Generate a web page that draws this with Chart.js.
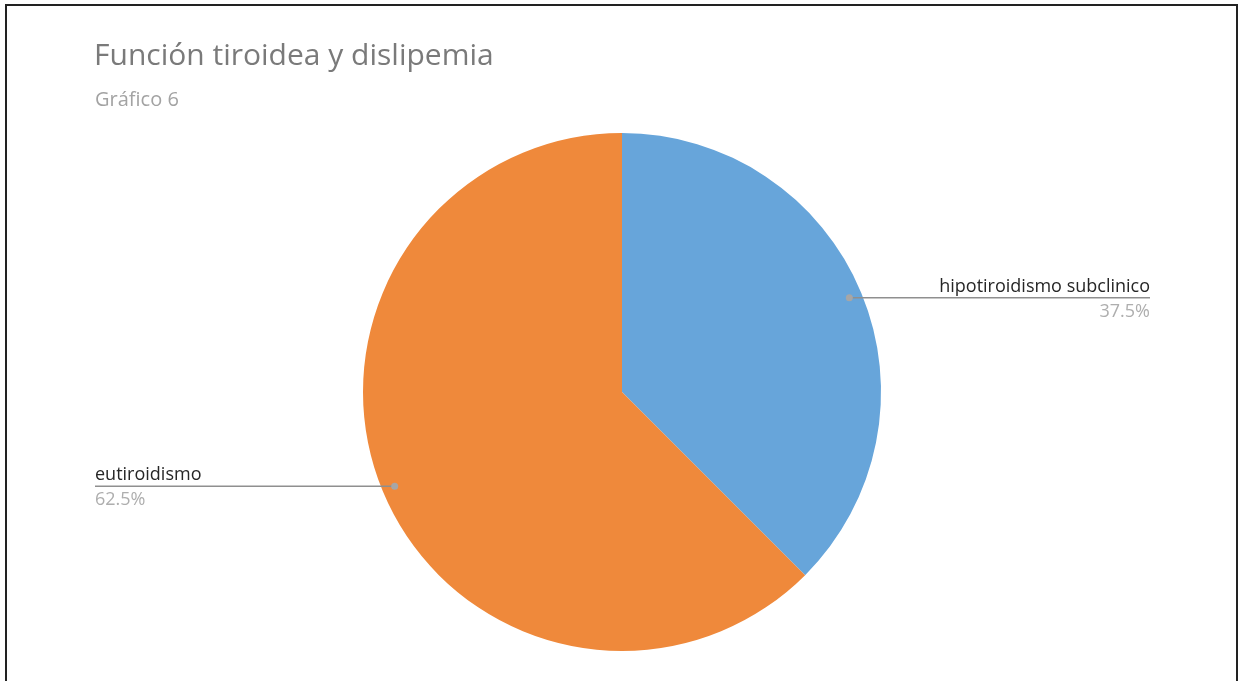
<!DOCTYPE html>
<html>
<head>
<meta charset="utf-8">
<script src="https://cdn.jsdelivr.net/npm/chart.js@4.4.0/dist/chart.umd.min.js"></script>
<style>
  html, body { margin: 0; padding: 0; background: #fff; width: 1241px; height: 681px; overflow: hidden; }
  #frame {
    position: absolute; left: 5px; top: 4px; width: 1233px; height: 700px;
    border: 2px solid #222; border-bottom: none; box-sizing: border-box;
  }
  #title {
    position: absolute; left: 94px; top: 39px; margin: 0; line-height: 1;
    font-family: "Open Sans", sans-serif; font-size: 30px; font-weight: 400; color: #7a7a7a;
    white-space: nowrap;
  }
  #subtitle {
    position: absolute; left: 95px; top: 89px; margin: 0; line-height: 1;
    font-family: "Open Sans", sans-serif; font-size: 20px; color: #a3a3a3;
  }
  #wrap { position: absolute; left: 0; top: 0; width: 1241px; height: 681px; }
</style>
</head>
<body>
<div id="frame"></div>
<div id="wrap"><canvas id="chart"></canvas></div>
<div id="title">Función tiroidea y dislipemia</div>
<div id="subtitle">Gráfico 6</div>
<script>
const categories = ['hipotiroidismo subclinico', 'eutiroidismo'];
const values = [37.5, 62.5];
const sliceColors = ['#67a5da', '#ef893b'];

// leader line end x for each slice (right side / left side)
const leaderEnds = [1150, 95];

const leaderLabels = {
    id: 'leaderLabels',
    afterDatasetsDraw(chart) {
        const ctx = chart.ctx;
        const arcs = chart.getDatasetMeta(0).data;
        arcs.forEach((arc, i) => {
            const mid = (arc.startAngle + arc.endAngle) / 2;
            const r = arc.outerRadius * 0.95;
            const px = arc.x + Math.cos(mid) * r;
            const py = arc.y + Math.sin(mid) * r;
            const endX = leaderEnds[i];
            const right = endX > px;

            ctx.save();
            ctx.strokeStyle = '#8f8f8f';
            ctx.lineWidth = 1.5;
            ctx.beginPath();
            ctx.moveTo(px, py);
            ctx.lineTo(endX, py);
            ctx.stroke();

            ctx.fillStyle = '#a6a6a6';
            ctx.beginPath();
            ctx.arc(px, py, 3.5, 0, Math.PI * 2);
            ctx.fill();

            ctx.textAlign = right ? 'right' : 'left';
            ctx.font = '18px "Open Sans", sans-serif';
            ctx.fillStyle = '#262626';
            ctx.textBaseline = 'alphabetic';
            ctx.fillText(categories[i], endX, py - 6);
            ctx.fillStyle = '#aeaeae';
            ctx.fillText(values[i].toFixed(1) + '%', endX, py + 19);
            ctx.restore();
        });
    }
};

const ctx = document.getElementById('chart').getContext('2d');
new Chart(ctx, {
    type: 'pie',
    data: {
        labels: categories,
        datasets: [{
            data: values,
            backgroundColor: sliceColors,
            borderWidth: 0
        }]
    },
    options: {
        responsive: true,
        maintainAspectRatio: false,
        animation: false,
        layout: {
            padding: { top: 133, bottom: 30, left: 3, right: 0 }
        },
        plugins: {
            legend: { display: false },
            tooltip: { enabled: false }
        }
    },
    plugins: [leaderLabels]
});
</script>
</body>
</html>
